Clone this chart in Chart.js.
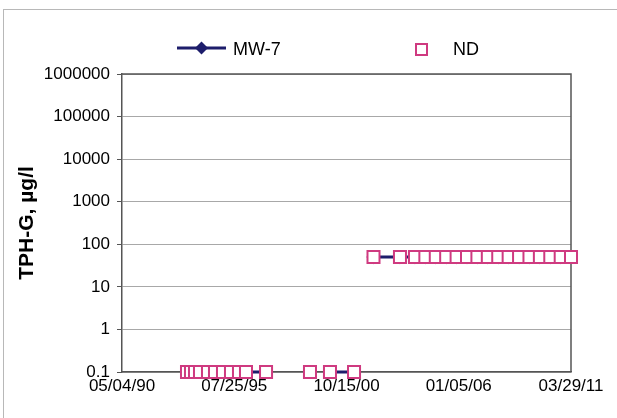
<!DOCTYPE html>
<html>
<head>
<meta charset="utf-8">
<title>MW-7 TPH-G</title>
<script src="https://cdn.jsdelivr.net/npm/chart.js@4.4.1/dist/chart.umd.min.js"></script>
<style>
    html, body { margin: 0; padding: 0; background: #fff; }
    #wrap { position: relative; width: 617px; height: 418px; overflow: hidden; }
    #frame { position: absolute; left: 3px; top: 9px; width: 620px; height: 420px; border: 1px solid #b8b8b8; }
    #chart { position: absolute; left: 0; top: 0; }
</style>
</head>
<body>
<div id="wrap">
    <div id="frame"></div>
    <canvas id="chart" width="617" height="418"></canvas>
</div>
<script>
// Sample dates (null values break the MW-7 line where no sample was taken)
const sampleDates = [
    '1993-05-13', '1993-07-20', '1993-09-26', '1993-12-20', '1994-05-05',
    '1994-09-01', '1995-01-15', '1995-05-31', '1995-10-14', '1996-02-10',
    '1997-01-16', '1998-01-01', '1999-02-02', '1999-07-01', '2000-01-08',
    '2001-02-20', '2001-08-01', '2002-01-17', '2003-04-12', '2003-12-23',
    '2004-06-17', '2004-12-11', '2005-06-06', '2005-11-30', '2006-05-26',
    '2006-11-19', '2007-05-15', '2007-11-08', '2008-05-03', '2008-10-27',
    '2009-04-22', '2009-10-16', '2010-04-11', '2010-10-05', '2011-03-29'
];
// TPH-G results, ug/l (reported at detection limit)
const mw7Values = [
    0.1, 0.1, 0.1, 0.1, 0.1,
    0.1, 0.1, 0.1, 0.1, 0.1,
    0.1, null, 0.1, null, 0.1,
    0.1, null, 50, 50, 50,
    50, 50, 50, 50, 50,
    50, 50, 50, 50, 50,
    50, 50, 50, 50, 50
];
// Non-detect flags plotted at the detection limit
const ndValues = [
    0.1, 0.1, 0.1, 0.1, 0.1,
    0.1, 0.1, 0.1, 0.1, 0.1,
    0.1, null, 0.1, null, 0.1,
    0.1, null, 50, 50, 50,
    50, 50, 50, 50, 50,
    50, 50, 50, 50, 50,
    50, 50, 50, 50, 50
];
const yTickValues = [0.1, 1, 10, 100, 1000, 10000, 100000, 1000000];
const xTickLabels = ['05/04/90', '07/25/95', '10/15/00', '01/05/06', '03/29/11'];

const NAVY = '#1d1d6b';
const PINK = '#cf3a80';
const FONT = "'Liberation Sans', Arial, sans-serif";

// Day number from ISO date
function dayNum(iso) {
    const [y, m, d] = iso.split('-').map(Number);
    return Date.UTC(y, m - 1, d) / 86400000;
}

// Day number from mm/dd/yy label
function labelDay(label) {
    const [m, d, yy] = label.split('/').map(Number);
    const y = yy > 50 ? 1900 + yy : 2000 + yy;
    return Date.UTC(y, m - 1, d) / 86400000;
}

const xTickDays = xTickLabels.map(labelDay);

function toPoints(values) {
    return sampleDates.map((d, i) => ({ x: dayNum(d), y: values[i] }));
}

// Plot frame top/right edges and the legend above the plot
const framePlugin = {
    id: 'frameAndLegend',
    beforeDatasetsDraw(chart) {
        const { ctx, chartArea: a } = chart;
        ctx.save();
        ctx.strokeStyle = '#555';
        ctx.lineWidth = 1.5;
        ctx.beginPath();
        ctx.moveTo(a.left, a.top);
        ctx.lineTo(a.right, a.top);
        ctx.lineTo(a.right, a.bottom);
        ctx.stroke();
        ctx.restore();
    },
    afterDraw(chart) {
        const ctx = chart.ctx;
        ctx.save();
        // MW-7 entry
        ctx.strokeStyle = NAVY;
        ctx.lineWidth = 3;
        ctx.beginPath();
        ctx.moveTo(177, 48);
        ctx.lineTo(226, 48);
        ctx.stroke();
        ctx.fillStyle = NAVY;
        ctx.beginPath();
        ctx.moveTo(201.5, 41.5);
        ctx.lineTo(208, 48);
        ctx.lineTo(201.5, 54.5);
        ctx.lineTo(195, 48);
        ctx.closePath();
        ctx.fill();
        // ND entry
        ctx.strokeStyle = PINK;
        ctx.lineWidth = 2;
        ctx.fillStyle = '#fff';
        ctx.fillRect(416, 44, 11, 11);
        ctx.strokeRect(416, 44, 11, 11);
        // Labels
        ctx.fillStyle = '#000';
        ctx.font = '18px ' + FONT;
        ctx.textBaseline = 'alphabetic';
        ctx.fillText('MW-7', 233, 55);
        ctx.fillText('ND', 453, 55);
        ctx.restore();
    }
};

const ctx = document.getElementById('chart').getContext('2d');
new Chart(ctx, {
    type: 'line',
    data: {
        datasets: [
            {
                label: 'ND',
                data: toPoints(ndValues),
                showLine: false,
                pointStyle: 'rect',
                pointRadius: 8.5,
                pointBorderWidth: 2,
                pointBorderColor: PINK,
                pointBackgroundColor: '#fff',
                borderColor: PINK,
                clip: false,
                order: 0
            },
            {
                label: 'MW-7',
                data: toPoints(mw7Values),
                borderColor: NAVY,
                borderWidth: 3,
                pointStyle: 'rectRot',
                pointRadius: 5,
                pointBackgroundColor: NAVY,
                pointBorderColor: NAVY,
                spanGaps: false,
                tension: 0,
                clip: false,
                order: 1
            }
        ]
    },
    options: {
        responsive: false,
        animation: false,
        layout: { padding: { left: 0, right: 46, top: 74, bottom: 0 } },
        plugins: {
            legend: { display: false },
            tooltip: { enabled: false }
        },
        scales: {
            x: {
                type: 'linear',
                min: xTickDays[0],
                max: xTickDays[xTickDays.length - 1],
                afterBuildTicks: scale => {
                    scale.ticks = xTickDays.map(v => ({ value: v }));
                },
                afterFit: scale => { scale.height = 46; },
                ticks: {
                    autoSkip: false,
                    maxRotation: 0,
                    padding: 4,
                    color: '#000',
                    font: { family: FONT, size: 17 },
                    callback: (v, i) => xTickLabels[i]
                },
                grid: { display: false, drawTicks: false },
                border: { display: true, color: '#555', width: 1.5 }
            },
            y: {
                type: 'logarithmic',
                min: yTickValues[0],
                max: yTickValues[yTickValues.length - 1],
                afterBuildTicks: scale => {
                    scale.ticks = yTickValues.map(v => ({ value: v }));
                },
                afterFit: scale => { scale.width = 122; },
                ticks: {
                    autoSkip: false,
                    padding: 7,
                    color: '#000',
                    font: { family: FONT, size: 17 },
                    callback: v => String(v)
                },
                grid: {
                    color: '#a8a8a8',
                    lineWidth: 1,
                    tickLength: 5,
                    tickColor: '#555'
                },
                border: { display: true, color: '#555', width: 1.5 },
                title: {
                    display: true,
                    text: 'TPH-G, µg/l',
                    color: '#000',
                    font: { family: FONT, size: 21, weight: 'bold' },
                    padding: { top: 15, bottom: 0 }
                }
            }
        }
    },
    plugins: [framePlugin]
});
</script>
</body>
</html>
